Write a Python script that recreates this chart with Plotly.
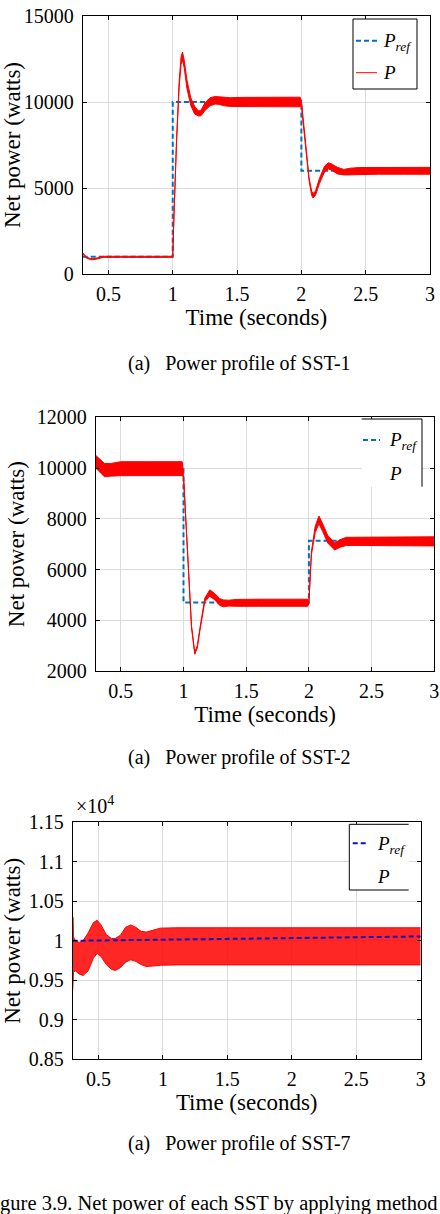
import plotly.graph_objects as go

W, H = 440, 1214
FONT = "Liberation Serif"

# ---------------- data ----------------
x_ticks = [0.5, 1, 1.5, 2, 2.5, 3]

# SST-1
ref1_t = [0.3, 1.0, 2.0, 3.0]
ref1_p = [1000, 10000, 6000, 6000]
p1_t = [0.30, 0.33, 0.36, 0.38, 0.42, 0.46, 0.60, 0.80, 0.99, 1.00, 1.01, 1.02, 1.03, 1.05,
        1.065, 1.076, 1.09, 1.11, 1.14, 1.17, 1.20, 1.22, 1.25, 1.29, 1.33, 1.36, 1.40, 1.45,
        1.55, 1.70, 1.85, 1.99, 2.00, 2.02, 2.04, 2.06, 2.08, 2.09, 2.11, 2.14, 2.18, 2.21,
        2.24, 2.28, 2.33, 2.38, 2.45, 2.60, 2.80, 3.00]
p1_hi = [1230, 980, 900, 890, 950, 1030, 1030, 1030, 1030, 1030, 3560, 6060, 7860, 11200,
         12650, 12900, 12400, 11300, 10250, 9750, 9480, 9520, 9950, 10250, 10320, 10300, 10260, 10250,
         10270, 10280, 10280, 10280, 10100, 8580, 6980, 5580, 4820, 4680, 4820, 5550, 6270, 6470,
         6380, 6200, 6080, 6150, 6190, 6200, 6200, 6200]
p1_lo = [1170, 920, 840, 830, 890, 970, 970, 970, 970, 970, 3440, 5940, 7740, 10850,
         12200, 12450, 11950, 10800, 9800, 9300, 9190, 9200, 9500, 9780, 9880, 9860, 9780, 9740,
         9730, 9720, 9720, 9720, 9800, 8420, 6820, 5420, 4580, 4420, 4580, 5250, 5930, 6110,
         6020, 5820, 5760, 5770, 5800, 5800, 5800, 5800]
y1_ticks = [0, 5000, 10000, 15000]

# SST-2
ref2_t = [0.3, 1.0, 2.0, 3.0]
ref2_p = [10000, 4700, 7130, 7130]
p2_t = [0.30, 0.33, 0.37, 0.42, 0.50, 0.70, 0.90, 0.99, 1.00, 1.011, 1.037, 1.064, 1.09, 1.11,
        1.13, 1.17, 1.21, 1.25, 1.29, 1.32, 1.36, 1.42, 1.60, 1.80, 1.99, 2.00, 2.02, 2.05,
        2.08, 2.11, 2.15, 2.205, 2.25, 2.30, 2.35, 2.45, 2.70, 3.00]
p2_hi = [10500, 10350, 10180, 10180, 10250, 10250, 10250, 10250, 9750, 8750, 6430, 3800, 2740, 3000,
         3660, 4870, 5200, 5050, 4850, 4800, 4790, 4820, 4830, 4830, 4830, 4760, 6700, 7700,
         8110, 7800, 7350, 7050, 7180, 7270, 7270, 7280, 7290, 7290]
p2_lo = [10000, 9850, 9660, 9680, 9700, 9700, 9700, 9700, 9650, 8650, 6330, 3700, 2660, 2900,
         3560, 4730, 4950, 4800, 4580, 4530, 4560, 4550, 4550, 4550, 4550, 4640, 6580, 7450,
         7800, 7500, 7050, 6770, 6880, 6950, 6950, 6930, 6930, 6930]
y2_ticks = [2000, 4000, 6000, 8000, 10000, 12000]

# SST-7
ref3_t = [0.3, 0.5, 1.0, 1.5, 2.0, 2.5, 3.0]
ref3_p = [10000, 10003, 10017, 10025, 10034, 10045, 10055]
p3_t = [0.300, 0.303, 0.306, 0.32, 0.35, 0.38, 0.42, 0.46, 0.49, 0.52, 0.56, 0.60, 0.63, 0.67,
        0.71, 0.75, 0.79, 0.83, 0.87, 0.92, 0.98, 1.10, 1.50, 2.00, 2.50, 3.00]
p3_hi = [10305, 10300, 10050, 10000, 9980, 10000, 10100, 10230, 10260, 10200, 10080, 10030, 10030, 10070,
         10170, 10200, 10170, 10120, 10110, 10130, 10160, 10165, 10165, 10165, 10165, 10165]
p3_lo = [9370, 9450, 9600, 9620, 9580, 9560, 9620, 9780, 9840, 9800, 9700, 9640, 9625, 9660,
         9730, 9760, 9740, 9700, 9675, 9680, 9690, 9695, 9695, 9695, 9695, 9695]
y3_ticks = [8500, 9000, 9500, 10000, 10500, 11000, 11500]
y3_ticktext = ["0.85", "0.9", "0.95", "1", "1.05", "1.1", "1.15"]

captions = ["(a)\u00a0\u00a0\u00a0Power profile of SST-1",
            "(a)\u00a0\u00a0\u00a0Power profile of SST-2",
            "(a)\u00a0\u00a0\u00a0Power profile of SST-7"]
fig_caption = "Figure 3.9. Net power of each SST by applying method 1"

# ---------------- layout helpers ----------------
def px(x):
    return x / W

def py(y):
    return 1 - y / H

# plot boxes in pixels: left, right, top, bottom
boxes = [(82.7, 430.0, 16.0, 274.0), (95.7, 434.3, 417.3, 671.0), (72.7, 420.7, 822.3, 1059.3)]

RED = "#ff0000"
BLUE = "#0072bd"
DASH = "5px,3px"

fig = go.Figure()

def add_band(t, hi, lo, xa, ya, fillcolor):
    fig.add_trace(go.Scatter(x=t, y=hi, mode="lines", line=dict(color=RED, width=1),
                             xaxis=xa, yaxis=ya, hoverinfo="skip", name="P"))
    fig.add_trace(go.Scatter(x=t, y=lo, mode="lines", line=dict(color=RED, width=1),
                             fill="tonexty", fillcolor=fillcolor,
                             xaxis=xa, yaxis=ya, hoverinfo="skip", name="P"))

# SST-1 (reference below the measured power)
fig.add_trace(go.Scatter(x=ref1_t, y=ref1_p, mode="lines", line=dict(color=BLUE, width=2, dash=DASH, shape="hv"),
                         xaxis="x", yaxis="y", name="Pref"))
add_band(p1_t, p1_hi, p1_lo, "x", "y", RED)
# SST-2
fig.add_trace(go.Scatter(x=ref2_t, y=ref2_p, mode="lines", line=dict(color=BLUE, width=2, dash=DASH, shape="hv"),
                         xaxis="x2", yaxis="y2", name="Pref"))
add_band(p2_t, p2_hi, p2_lo, "x2", "y2", RED)
# SST-7 (reference on top)
add_band(p3_t, p3_hi, p3_lo, "x3", "y3", "rgba(255,0,0,0.85)")
fig.add_trace(go.Scatter(x=ref3_t, y=ref3_p, mode="lines", line=dict(color="#1010c0", width=2, dash=DASH),
                         xaxis="x3", yaxis="y3", name="Pref"))

tickfont = dict(family=FONT, size=20, color="black")
titlefont = dict(family=FONT, size=23, color="black")

def xaxis_cfg(box, anchor):
    l, r, t, b = box
    return dict(domain=[px(l), px(r)], anchor=anchor, range=[0.3, 3], tickmode="array", tickvals=x_ticks,
                showline=True, linecolor="black", linewidth=1, mirror="ticks", ticks="inside", ticklen=4,
                tickcolor="black", showgrid=True, gridcolor="#dcdcdc", gridwidth=1, zeroline=False,
                tickfont=tickfont, ticklabelstandoff=2,
                title=dict(text="Time (seconds)", font=titlefont, standoff=4), automargin=False)

def yaxis_cfg(box, anchor, rng, tv, tt=None):
    l, r, t, b = box
    d = dict(domain=[py(b), py(t)], anchor=anchor, range=rng, tickmode="array", tickvals=tv,
             showline=True, linecolor="black", linewidth=1, mirror="ticks", ticks="inside", ticklen=4,
             tickcolor="black", showgrid=True, gridcolor="#dcdcdc", gridwidth=1, zeroline=False,
             tickfont=tickfont, tickformat="d", ticklabelstandoff=4,
             title=dict(text="Net power (watts)", font=titlefont, standoff=5), automargin=False)
    if tt is not None:
        d["ticktext"] = tt
    return d

shapes = []
annotations = []

def rect(x0, y0, x1, y1, fill="white"):
    shapes.append(dict(type="rect", xref="paper", yref="paper", x0=px(x0), x1=px(x1), y0=py(y1), y1=py(y0),
                       line=dict(width=0), fillcolor=fill, layer="above"))

def seg(x0, y0, x1, y1, color="black", width=1, dash="solid"):
    shapes.append(dict(type="line", xref="paper", yref="paper", x0=px(x0), x1=px(x1), y0=py(y0), y1=py(y1),
                       line=dict(color=color, width=width, dash=dash), layer="above"))

def text(x, y, s, size, xanchor="left", yanchor="middle"):
    annotations.append(dict(xref="paper", yref="paper", x=px(x), y=py(y), text=s, showarrow=False,
                            xanchor=xanchor, yanchor=yanchor, font=dict(family=FONT, size=size, color="black")))

PREF = "<i>P</i><sub><i>ref</i></sub>"
PTXT = "<i>P</i>"

# legend 1: full box
rect(353, 19, 417, 89)
seg(353, 19, 417, 19); seg(353, 89, 417, 89); seg(353, 19, 353, 89); seg(417, 19, 417, 89)
seg(356, 40.7, 377, 40.7, color=BLUE, width=2, dash=DASH)
seg(356, 72.7, 377, 72.7, color=RED, width=1)
text(381, 42, PREF, 19)
text(381, 73, PTXT, 19)

# legend 2: top + right border only
rect(361.7, 419, 422, 486.7)
seg(361.7, 419, 422, 419); seg(422, 419, 422, 486.7)
seg(363, 440, 380, 440, color=BLUE, width=2, dash=DASH)
text(387, 441, PREF, 19)
text(387, 473, PTXT, 19)

# legend 3: left, top, bottom border
rect(349.3, 824.3, 408.7, 890)
seg(349.3, 824.3, 408.7, 824.3); seg(349.3, 890, 408.7, 890); seg(349.3, 824.3, 349.3, 890)
seg(352.7, 843.3, 368.3, 843.3, color="#1010c0", width=2, dash=DASH)
text(375, 845, PREF, 19)
text(375, 876.7, PTXT, 19)

# exponent
text(74, 819, "\u00d710<sup>4</sup>", 20, yanchor="bottom")

# captions
text(239, 363, captions[0], 20, xanchor="center")
text(239, 757, captions[1], 20, xanchor="center")
text(239, 1143, captions[2], 20, xanchor="center")
text(218, 1203, fig_caption, 20.5, xanchor="center")

fig.update_layout(
    width=W, height=H, margin=dict(l=0, r=0, t=0, b=0, pad=0),
    paper_bgcolor="white", plot_bgcolor="white", showlegend=False,
    xaxis=xaxis_cfg(boxes[0], "y"), yaxis=yaxis_cfg(boxes[0], "x", [0, 15000], y1_ticks),
    xaxis2=xaxis_cfg(boxes[1], "y2"), yaxis2=yaxis_cfg(boxes[1], "x2", [2000, 12000], y2_ticks),
    xaxis3=xaxis_cfg(boxes[2], "y3"), yaxis3=yaxis_cfg(boxes[2], "x3", [8500, 11500], y3_ticks, y3_ticktext),
    shapes=shapes, annotations=annotations,
)

fig.write_html("out.html")
